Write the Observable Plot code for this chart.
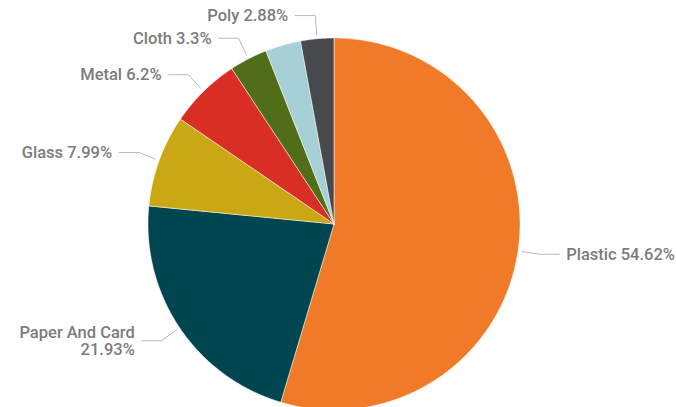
<!DOCTYPE html>
<html><head><meta charset="utf-8">
<script src="https://cdn.jsdelivr.net/npm/d3@7"></script>
<script src="https://cdn.jsdelivr.net/npm/@observablehq/plot@0.6"></script>
<style>body{margin:0;background:#fff} #chart svg{display:block}</style>
</head><body><div id="chart"></div>
<script>
const categories = ["Plastic", "Paper And Card", "Glass", "Metal", "Cloth", "Other", "Poly"];
const values = [54.62, 21.93, 7.99, 6.2, 3.3, 3.08, 2.88];
const showLabel = [true, true, true, true, true, false, true];
const colors = ["#F07A28", "#004650", "#C9A813", "#D92E24", "#506D17", "#A6D0D6", "#48494D"];

const W = 676, H = 407, cx = 333.5, cy = 223.5, R = 186;
const data = categories.map((name, i) => ({name, value: values[i], show: showLabel[i]}));
const arcs = d3.pie().sort(null).value(d => d.value)(data);
const pol = (a, k) => [k * Math.sin(a), k * Math.cos(a)];

const slices = [];
arcs.forEach(a => {
  const name = a.data.name;
  slices.push({name, x: 0, y: 0});
  const n = Math.max(2, Math.ceil((a.endAngle - a.startAngle) / (Math.PI / 360)));
  for (let j = 0; j <= n; j++) {
    const t = a.startAngle + (a.endAngle - a.startAngle) * j / n;
    const [x, y] = pol(t, 1);
    slices.push({name, x, y});
  }
  slices.push({name, x: 0, y: 0});
});

const labels = [];
const leaders = [];
arcs.filter(a => a.data.show).forEach(a => {
  const m = (a.startAngle + a.endAngle) / 2;
  const side = Math.sin(m) >= 0 ? 1 : -1;
  const p0 = pol(m, 1.022);
  const ex = 1.115 * Math.sin(m), ey = 1.125 * Math.cos(m);
  const p2 = [ex + side * 20 / R, ey];
  const name = a.data.name;
  [p0, [ex, ey], p2].forEach(p => leaders.push({name, x: p[0], y: p[1]}));
  const sep = name.length > 12 ? "\n" : " ";
  labels.push({name, side, x: p2[0], y: ey, text: name + sep + a.data.value + "%"});
});

const textOpts = {x: "x", y: "y", text: "text", fontSize: 16.5, fontWeight: 500, fontFamily: "Roboto", fill: "#7c7c7c", lineHeight: 1.05};

const chart = Plot.plot({
  width: W, height: H,
  marginTop: 0, marginRight: 0, marginBottom: 0, marginLeft: 0,
  x: {domain: [-cx / R, (W - cx) / R], axis: null},
  y: {domain: [-(H - cy) / R, cy / R], axis: null},
  color: {domain: categories, range: colors},
  marks: [
    Plot.line(slices, {x: "x", y: "y", z: "name", fill: "name", stroke: "white", strokeWidth: 0.5, curve: "linear"}),
    Plot.line(leaders, {x: "x", y: "y", z: "name", stroke: "#b9b9b9", strokeWidth: 1}),
    Plot.text(labels.filter(d => d.side < 0), {...textOpts, textAnchor: "end", dx: -7}),
    Plot.text(labels.filter(d => d.side > 0), {...textOpts, textAnchor: "start", dx: 7})
  ]
});
document.getElementById("chart").append(chart);
</script>
</body></html>
